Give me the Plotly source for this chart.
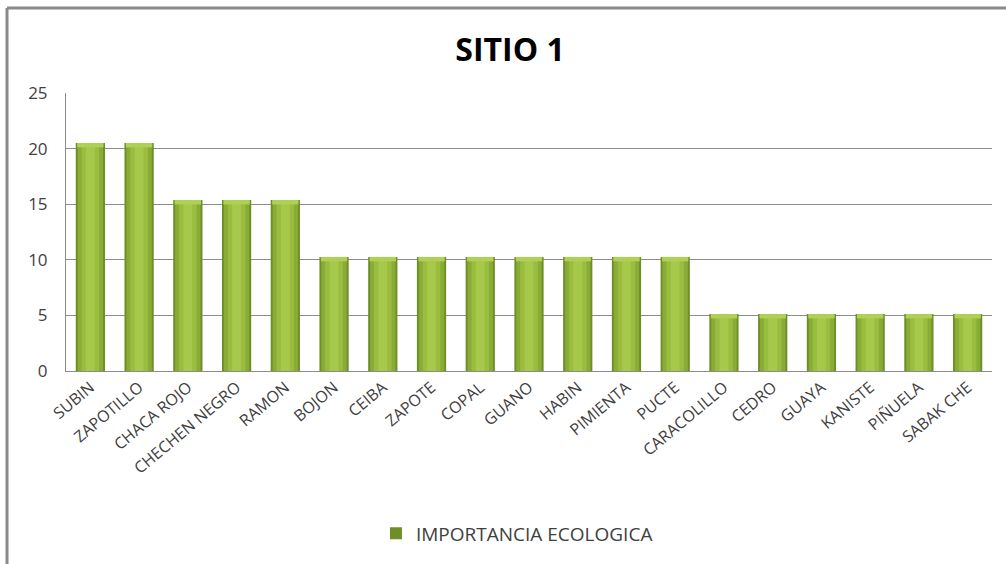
import plotly.graph_objects as go

especies = ["SUBIN", "ZAPOTILLO", "CHACA ROJO", "CHECHEN NEGRO", "RAMON", "BOJON",
            "CEIBA", "ZAPOTE", "COPAL", "GUANO", "HABIN", "PIMIENTA", "PUCTE",
            "CARACOLILLO", "CEDRO", "GUAYA", "KANISTE", "PIÑUELA", "SABAK CHE"]
importancia = [20.51, 20.51, 15.38, 15.38, 15.38, 10.26, 10.26, 10.26, 10.26, 10.26,
               10.26, 10.26, 10.26, 5.13, 5.13, 5.13, 5.13, 5.13, 5.13]
y_ticks = [0, 5, 10, 15, 20, 25]

fig = go.Figure()

# layered bars give a soft cylindrical shading: dark edge, mid body, light core
capas = [
    (0.60, "#6e8f26", True),
    (0.52, "#88ac36", False),
    (0.36, "#9abd40", False),
    (0.18, "#a6c84b", False),
]
for ancho, color, leyenda in capas:
    fig.add_trace(go.Bar(
        x=especies, y=importancia, width=ancho,
        marker=dict(color=color, line=dict(width=0)),
        name="IMPORTANCIA ECOLOGICA", showlegend=leyenda,
        hoverinfo="x+y",
    ))

# light cap on top of each bar
cap = 0.4
fig.add_trace(go.Bar(
    x=especies, y=[cap] * len(especies), base=[v - cap for v in importancia],
    width=0.54, marker=dict(color="#afd057", line=dict(width=0)),
    showlegend=False, hoverinfo="skip",
))

fig.update_layout(
    barmode="overlay",
    width=1006, height=564,
    margin=dict(l=66, r=14, t=93, b=190),
    paper_bgcolor="white", plot_bgcolor="white",
    font=dict(family="Open Sans, Lato, sans-serif", color="#404040"),
    title=dict(text="<b>SITIO 1</b>", x=(510 - 66) / 926, xref="paper",
               xanchor="center", y=1 - 50 / 564, yanchor="middle",
               font=dict(size=32, color="#000000", family="Open Sans, sans-serif")),
    showlegend=True,
    legend=dict(orientation="h", x=0.487, xanchor="center", y=-0.584, yanchor="middle",
                font=dict(size=19, color="#404040"), bgcolor="rgba(0,0,0,0)"),
    xaxis=dict(tickangle=-40, tickfont=dict(size=16, color="#404040"),
               showline=True, linecolor="#8c8c8c", linewidth=1, automargin=False,
               showgrid=False, ticks="", range=[-0.5, 18.5]),
    yaxis=dict(range=[0, 25], tickvals=y_ticks, tickfont=dict(size=17, color="#404040"),
               showgrid=True, gridcolor="#8c8c8c", gridwidth=1, automargin=False,
               showline=True, linecolor="#8c8c8c", linewidth=1,
               ticks="", ticklabelstandoff=14, zeroline=False),
    shapes=[
        dict(type="line", xref="paper", yref="paper",
             x0=(7 - 66) / 926, x1=(1010 - 66) / 926,
             y0=(374 - 7) / 281, y1=(374 - 7) / 281,
             line=dict(color="#8a8a8a", width=3)),
        dict(type="line", xref="paper", yref="paper",
             x0=(7 - 66) / 926, x1=(7 - 66) / 926,
             y0=(374 - 7) / 281, y1=(374 - 570) / 281,
             line=dict(color="#8a8a8a", width=3)),
    ],
)

fig.write_html("out.html")
